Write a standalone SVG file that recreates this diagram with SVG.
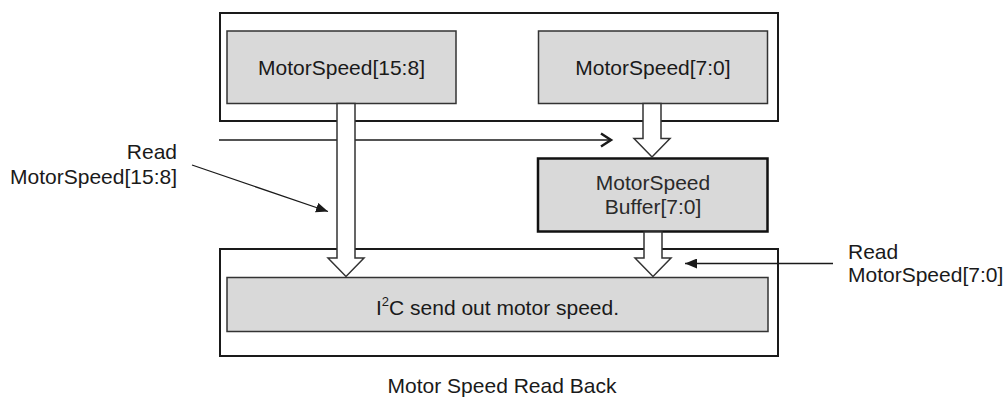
<svg xmlns="http://www.w3.org/2000/svg" width="1005" height="397" viewBox="0 0 1005 397">
<style>
text{font-family:"Liberation Sans",Arial,sans-serif;font-size:21px;fill:#1a1a1a}
.outer{fill:none;stroke:#1a1a1a;stroke-width:2}
.inner{fill:#d9d9d9;stroke:#333;stroke-width:1.5}
.buf{fill:#d9d9d9;stroke:#111;stroke-width:2.5}
.hollow{fill:#fff;stroke:#333;stroke-width:1.5}
.line{fill:none;stroke:#1a1a1a;stroke-width:1.3}
</style>
<defs>
<marker id="tri" markerWidth="12" markerHeight="10" refX="12" refY="5" orient="auto" markerUnits="userSpaceOnUse">
<path d="M0,0 L12,5 L0,10 Z" fill="#1a1a1a"/>
</marker>
</defs>
<rect width="1005" height="397" fill="#fff"/>
<g id="top-block">
<rect class="outer" x="220" y="13" width="558" height="108"/>
</g>
<g id="bottom-block">
<rect class="outer" x="220" y="249" width="558" height="107"/>
</g>
<g id="speed-hi">
<rect class="inner" x="227" y="31" width="229" height="72.5"/>
<text x="341.5" y="75" text-anchor="middle">MotorSpeed[15:8]</text>
</g>
<g id="speed-lo">
<rect class="inner" x="538.5" y="31" width="229" height="72.5"/>
<text x="653" y="75" text-anchor="middle">MotorSpeed[7:0]</text>
</g>
<g id="buffer">
<rect class="buf" x="538" y="158.5" width="229.5" height="73"/>
<text x="653" y="190" text-anchor="middle" style="fill:#2a2a2a">MotorSpeed</text>
<text x="653" y="214" text-anchor="middle" style="fill:#2a2a2a">Buffer[7:0]</text>
</g>
<g id="i2c">
<rect class="inner" x="227" y="277.5" width="541" height="54"/>
<text x="497.5" y="315" text-anchor="middle">I<tspan dy="-9" font-size="13">2</tspan><tspan dy="9">C send out motor speed.</tspan></text>
</g>
<g id="connectors">
<path class="line" d="M219,140 H610" stroke-width="2.2"/>
<path d="M601,133.5 L611,140 L601,146.5" fill="none" stroke="#1a1a1a" stroke-width="2.5"/>
<polygon class="hollow" points="337,103.5 355,103.5 355,258 364,258 346,276.5 328,258 337,258"/>
<polygon class="hollow" points="643,103.5 661,103.5 661,138.5 670,138.5 652,157 634,138.5 643,138.5"/>
<polygon class="hollow" points="644,232 662,232 662,258 671,258 653,276.5 635,258 644,258"/>
<line class="line" x1="192" y1="165" x2="328" y2="211.5" marker-end="url(#tri)"/>
<line class="line" x1="833" y1="263.5" x2="685" y2="263.5" marker-end="url(#tri)"/>
</g>
<g id="labels">
<text x="177" y="158.5" text-anchor="end">Read</text>
<text x="177" y="183.5" text-anchor="end">MotorSpeed[15:8]</text>
<text x="848" y="258.5">Read</text>
<text x="848" y="282">MotorSpeed[7:0]</text>
<text x="502" y="393" text-anchor="middle">Motor Speed Read Back</text>
</g>
</svg>
